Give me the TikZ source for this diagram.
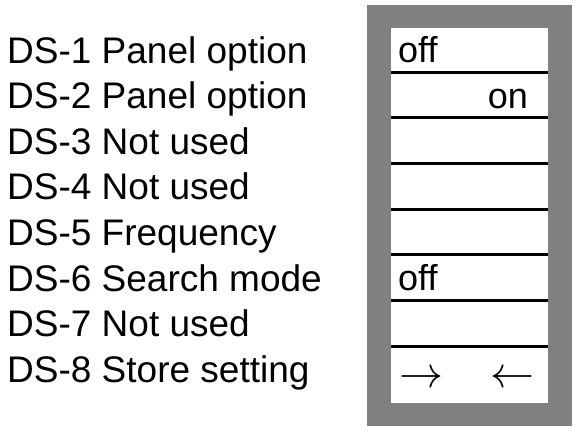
\documentclass[tikz,border=0pt]{standalone}
\usepackage{fontspec}
\setmainfont{Liberation Sans}
\usepackage{tikz}
\usetikzlibrary{positioning}
\definecolor{framegray}{HTML}{808080}

\begin{document}
\begin{tikzpicture}[x=1pt,y=-1pt,
  dslabel/.style={anchor=base west,inner sep=0pt,font=\fontsize{37}{40}\selectfont},
  setting/.style={inner sep=0pt,font=\fontsize{36}{40}\selectfont},
  arrowmark/.style={inner sep=0pt,scale=4.4}]
  \useasboundingbox (0,0) rectangle (578,432);

  % Switch names
  \foreach \i/\txt in {1/Panel option, 2/Panel option, 3/Not used, 4/Not used,
                       5/Frequency, 6/Search mode, 7/Not used, 8/Store setting} {
    \node[dslabel] (ds\i) at (7,{63+45.6*(\i-1)}) {DS-\i\ \txt};
  }

  % Switch block
  \fill[framegray] (367,5) rectangle (572,426);
  \fill[white] (391,28) rectangle (548,403);
  \foreach \y in {72,117,163,209,254,300,346} {
    \draw[line width=3pt] (391,\y) -- (548,\y);
  }

  % Settings
  \node[setting,anchor=base west] (set1) at (398,62) {off};
  \node[setting,anchor=base east] (set2) at (528,108) {on};
  \node[setting,anchor=base west] (set6) at (398,290) {off};
  \node[arrowmark] (right8) at (421,379) {$\rightarrow$};
  \node[arrowmark] (left8) at (512,379) {$\leftarrow$};
\end{tikzpicture}
\end{document}
